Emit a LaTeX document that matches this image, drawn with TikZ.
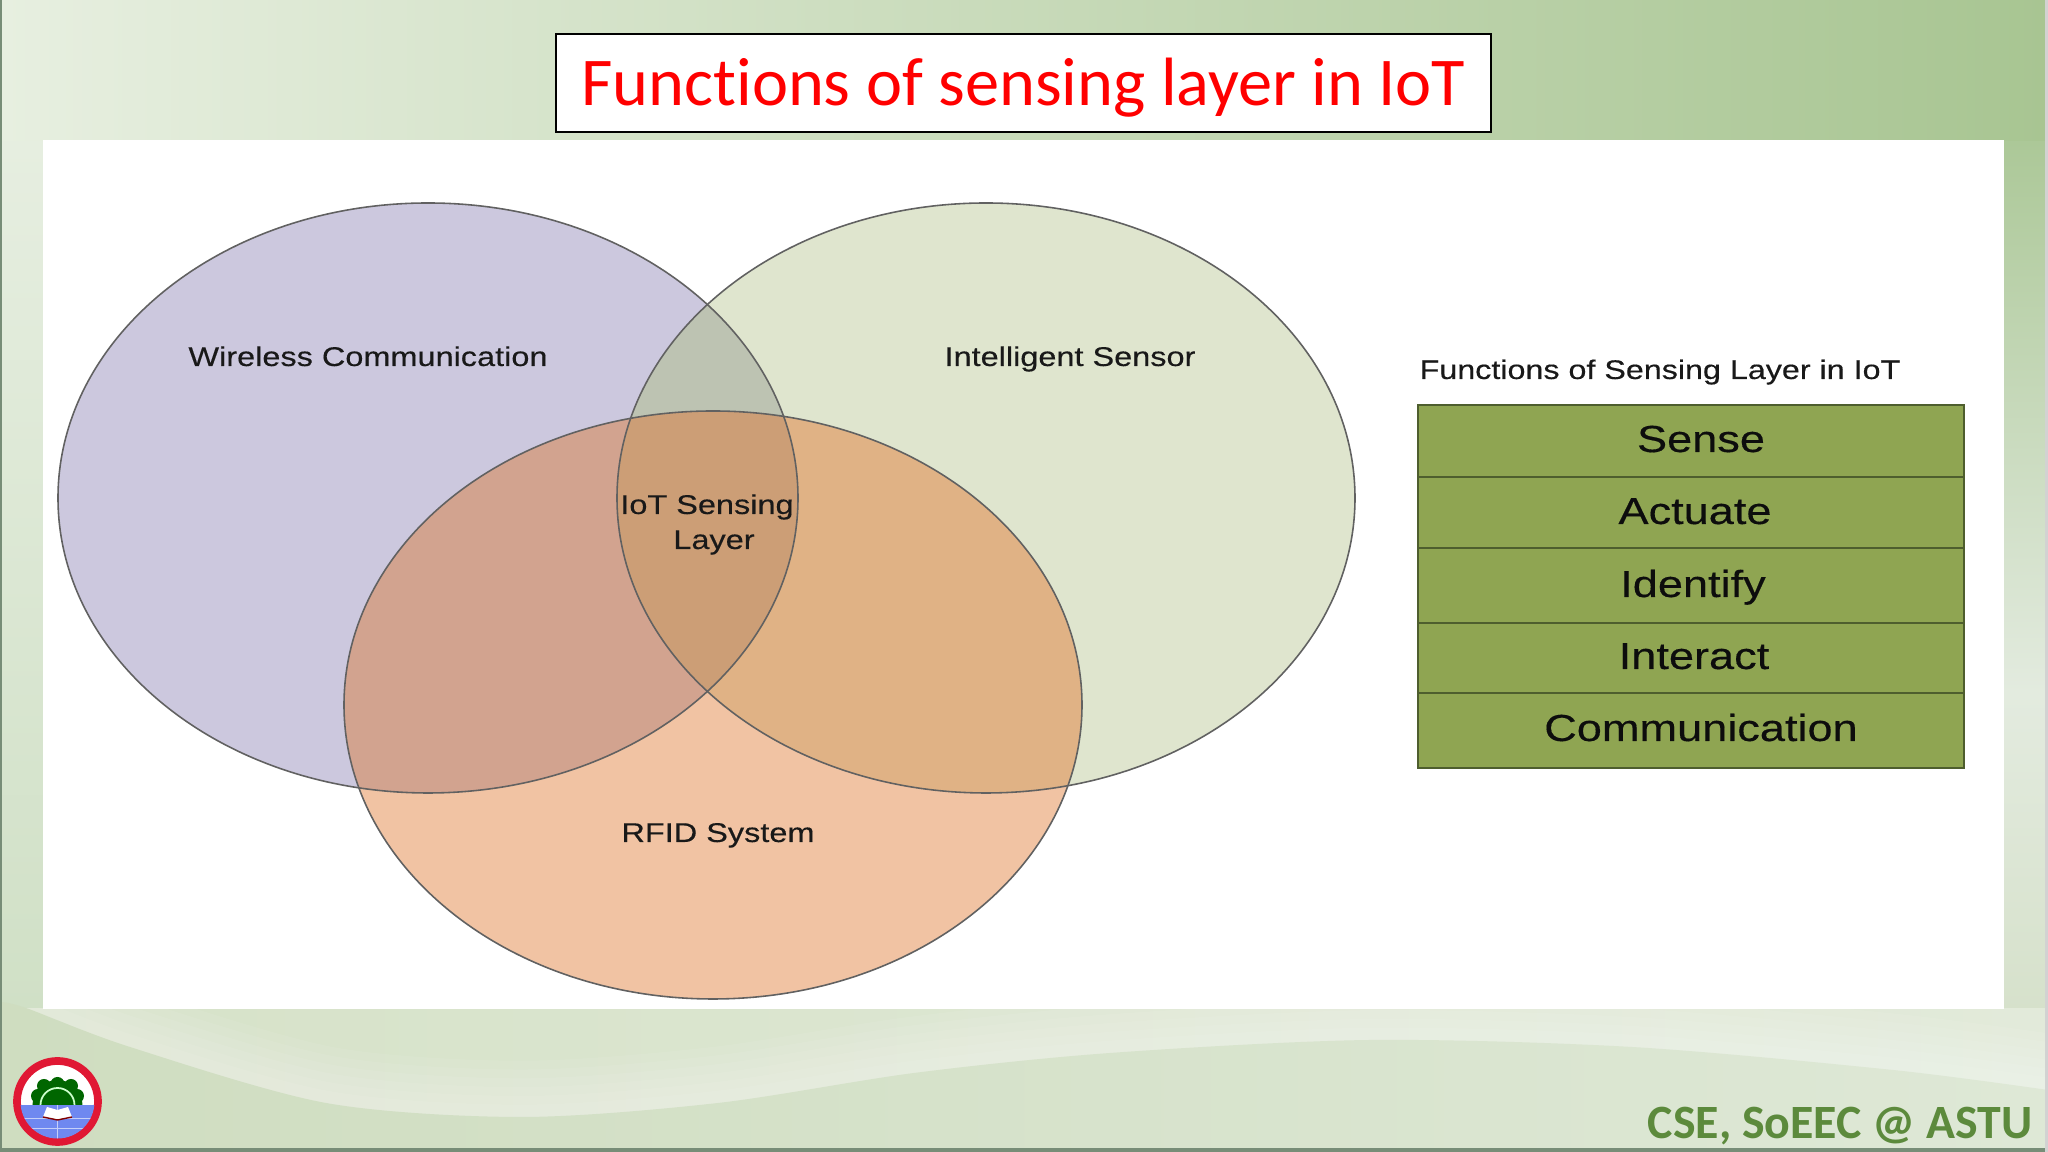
\documentclass[tikz,border=0pt]{standalone}
\usepackage{fontspec}
\usetikzlibrary{shapes.geometric}
\setmainfont{Liberation Sans}
\newfontfamily\slidefont[Ligatures=NoCommon]{Carlito}
\newfontfamily\wideface[FakeStretch=1.2,FakeBold=0.35]{Liberation Sans}

\definecolor{wirelessfill}{HTML}{CCC8DE}
\definecolor{sensorfill}{HTML}{DFE5CE}
\definecolor{rfidfill}{HTML}{F1C3A3}
\definecolor{wirelesssensor}{HTML}{BDC3B2}
\definecolor{wirelessrfid}{HTML}{D2A38F}
\definecolor{sensorrfid}{HTML}{E0B285}
\definecolor{centerfill}{HTML}{CC9E76}
\definecolor{rowfill}{HTML}{8FA552}
\definecolor{rowline}{HTML}{4E5E2E}
\definecolor{footgreen}{HTML}{5C8A3C}
\definecolor{logoblue}{HTML}{6F88F0}

\newcommand{\wirelesspath}{(4.28,6.54) ellipse (3.70 and 2.95)}
\newcommand{\sensorpath}{(9.86,6.54) ellipse (3.69 and 2.95)}
\newcommand{\rfidpath}{(7.13,4.47) ellipse (3.69 and 2.94)}
\newcommand{\swooshcurve}{plot[smooth] coordinates {(0,1.50) (0.26,1.44) (1.30,1.05) (3.26,0.49) (5.22,0.35) (7.18,0.49) (9.14,0.79) (11.10,0.99) (13.70,1.12) (16.32,1.05) (18.93,0.82) (20.48,0.62)}}

\begin{document}
\begin{tikzpicture}[
    vennring/.style={ellipse, draw=black!62, line width=0.45pt, inner sep=0pt},
    vennlabel/.style={anchor=base, text=black!90, font=\wideface\fontsize{7.7}{9}\selectfont},
    funcrow/.style={rectangle, draw=rowline, line width=0.5pt, fill=rowfill, minimum width=5.46cm, inner sep=0pt},
    funclabel/.style={anchor=base, text=black!95, font=\wideface\fontsize{10.7}{12}\selectfont},
    glowband/.style={white, line cap=round, opacity=0.07}
]
    \useasboundingbox (0,0) rectangle (20.48,11.52);

    % slide background
    \shade[left color={rgb,255:red,231;green,239;blue,224}, middle color={rgb,255:red,208;green,224;blue,194}, right color={rgb,255:red,168;green,197;blue,146}] (0,10) rectangle (20.48,11.52);
    \shade[top color={rgb,255:red,230;green,238;blue,224}, bottom color={rgb,255:red,208;green,224;blue,198}] (0,1.4) rectangle (0.5,10.1);
    \shade[top color={rgb,255:red,172;green,200;blue,152}, bottom color={rgb,255:red,227;green,235;blue,223}] (19.9,4.6) rectangle (20.48,10.1);
    \shade[top color={rgb,255:red,227;green,235;blue,223}, bottom color={rgb,255:red,214;green,225;blue,203}] (19.9,1.4) rectangle (20.48,4.6);
    \shade[left color={rgb,255:red,214;green,226;blue,200}, right color={rgb,255:red,226;green,234;blue,218}] (0,0) rectangle (20.48,1.43);

    % light band and lower swoosh
    \begin{scope}
        \clip (0,0) rectangle (20.48,1.43);
        \draw[glowband, line width=32pt] \swooshcurve;
        \draw[glowband, line width=27pt] \swooshcurve;
        \draw[glowband, line width=22pt] \swooshcurve;
        \draw[glowband, line width=17pt] \swooshcurve;
        \draw[glowband, line width=12pt] \swooshcurve;
        \draw[glowband, line width=7pt] \swooshcurve;
    \end{scope}
    \shade[left color={rgb,255:red,207;green,221;blue,192}, right color={rgb,255:red,222;green,232;blue,214}] (0,0) -- plot[smooth] coordinates {(0,1.50) (0.26,1.44) (1.30,1.05) (3.26,0.49) (5.22,0.35) (7.18,0.49) (9.14,0.79) (11.10,0.99) (13.70,1.12) (16.32,1.05) (18.93,0.82) (20.48,0.62)} -- (20.48,0) -- cycle;
    \fill[gray!80!green!60!black!70] (0,0) rectangle (0.025,11.52);
    \fill[gray!80!green!60!black!70] (0,0) rectangle (20.48,0.035);
    \fill[gray!35] (20.45,0) rectangle (20.48,11.52);

    % white panel
    \fill[white] (0.43,1.43) rectangle (20.04,10.12);

    % title
    \node[rectangle, draw=black, line width=0.7pt, fill=white, minimum width=9.35cm, minimum height=0.98cm, inner sep=0pt] (titlebox) at (10.235,10.69) {};
    \node[anchor=base, text=red, font=\slidefont\fontsize{19.45}{22}\selectfont] (titletext) at (10.235,10.465) {Functions of sensing layer in IoT};

    % venn regions
    \fill[wirelessfill] \wirelesspath;
    \fill[sensorfill] \sensorpath;
    \fill[rfidfill] \rfidpath;
    \begin{scope}
        \clip \wirelesspath;
        \fill[wirelesssensor] \sensorpath;
        \fill[wirelessrfid] \rfidpath;
        \clip \sensorpath;
        \fill[centerfill] \rfidpath;
    \end{scope}
    \begin{scope}
        \clip \sensorpath;
        \clip \rfidpath;
        \fill[sensorrfid] (2,0) rectangle (15,11);
        \clip \wirelesspath;
        \fill[centerfill] (2,0) rectangle (15,11);
    \end{scope}

    \node[vennring, minimum width=7.40cm, minimum height=5.90cm] (wireless) at (4.28,6.54) {};
    \node[vennring, minimum width=7.38cm, minimum height=5.90cm] (sensor) at (9.86,6.54) {};
    \node[vennring, minimum width=7.38cm, minimum height=5.88cm] (rfid) at (7.13,4.47) {};

    \node[vennlabel] (wirelesslabel) at (3.68,7.86) {Wireless Communication};
    \node[vennlabel] (sensorlabel) at (10.70,7.86) {Intelligent Sensor};
    \node[vennlabel] (rfidlabel) at (7.18,3.10) {RFID System};
    \node[vennlabel] (centerlabel) at (7.07,6.38) {IoT Sensing};
    \node[vennlabel] (layerlabel) at (7.14,6.03) {Layer};

    % functions table
    \node[vennlabel, font=\wideface\fontsize{7.65}{9}\selectfont] (tabletitle) at (16.60,7.73) {Functions of Sensing Layer in IoT};
    \node[funcrow, minimum height=0.72cm] (senserow) at (16.91,7.11) {};
    \node[funcrow, minimum height=0.71cm] (actuaterow) at (16.91,6.395) {};
    \node[funcrow, minimum height=0.75cm] (identifyrow) at (16.91,5.665) {};
    \node[funcrow, minimum height=0.70cm] (interactrow) at (16.91,4.94) {};
    \node[funcrow, minimum height=0.75cm] (communicationrow) at (16.91,4.215) {};

    \node[funclabel] (sensetext) at (17.01,7.00) {Sense};
    \node[funclabel] (actuatetext) at (16.95,6.28) {Actuate};
    \node[funclabel] (identifytext) at (16.93,5.55) {Identify};
    \node[funclabel] (interacttext) at (16.94,4.83) {Interact};
    \node[funclabel] (communicationtext) at (17.01,4.11) {Communication};

    % footer
    \node[anchor=base, text=footgreen, font=\slidefont\bfseries\fontsize{13.6}{15}\selectfont] (footer) at (18.40,0.13) {CSE, SoEEC @ ASTU};

    % logo
    \node[circle, draw={rgb,255:red,224;green,24;blue,52}, line width=2.2pt, fill=white, minimum size=0.81cm, inner sep=0pt] (logo) at (0.575,0.505) {};
    \begin{scope}
        \clip (0.575,0.505) circle (0.37);
        \fill[green!40!black] (0.575,0.47) circle (0.25);
        \fill[green!40!black] (0.38,0.56) circle (0.07);
        \fill[green!40!black] (0.44,0.66) circle (0.07);
        \fill[green!40!black] (0.575,0.68) circle (0.07);
        \fill[green!40!black] (0.71,0.66) circle (0.07);
        \fill[green!40!black] (0.77,0.56) circle (0.07);
        \draw[white!80!green, line width=0.5pt] (0.575,0.47) circle (0.17);
        \fill[logoblue] (0.1,0) rectangle (1.1,0.47);
        \draw[white!60!logoblue, line width=0.25pt] (0.1,0.34) -- (1.1,0.34);
        \draw[white!60!logoblue, line width=0.25pt] (0.1,0.24) -- (1.1,0.24);
        \draw[white!60!logoblue, line width=0.25pt] (0.575,0.47) -- (0.575,0.10);
    \end{scope}
    \fill[white] (0.43,0.35) -- (0.575,0.32) -- (0.72,0.35) -- (0.68,0.45) -- (0.575,0.42) -- (0.47,0.45) -- cycle;
    \draw[red!50!black, line width=0.4pt] (0.43,0.35) -- (0.575,0.32) -- (0.72,0.35);

\end{tikzpicture}
\end{document}
